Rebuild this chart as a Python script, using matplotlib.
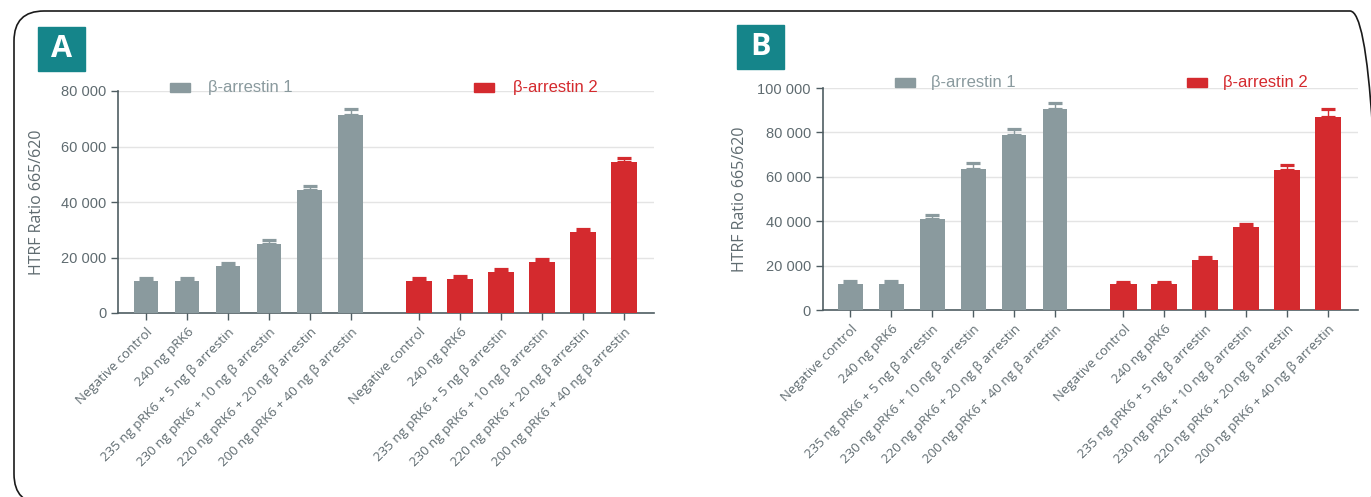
import matplotlib
matplotlib.use("Agg")
import matplotlib.pyplot as plt
import numpy as np
from matplotlib.patches import Rectangle, FancyBboxPatch
from matplotlib.transforms import IdentityTransform

# data
labels = ["Negative control", "240 ng pRK6", "235 ng pRK6 + 5 ng β arrestin",
          "230 ng pRK6 + 10 ng β arrestin", "220 ng pRK6 + 20 ng β arrestin",
          "200 ng pRK6 + 40 ng β arrestin"]

a_arr1 = [11400, 11400, 16800, 25000, 44400, 71400]
a_arr1_err = [1200, 1200, 1200, 1200, 1200, 2000]
a_arr2 = [11700, 12100, 14600, 18200, 29300, 54500]
a_arr2_err = [1000, 1100, 1200, 1300, 1100, 1200]

b_arr1 = [11700, 11700, 41000, 63500, 78800, 90500]
b_arr1_err = [1400, 1400, 1900, 2900, 2600, 2900]
b_arr2 = [11700, 11700, 22500, 37400, 63100, 86900]
b_arr2_err = [1100, 1100, 1400, 1300, 2200, 3500]

a_yticks = [0, 20000, 40000, 60000, 80000]
a_ytick_labels = ["0", "20 000", "40 000", "60 000", "80 000"]
b_yticks = [0, 20000, 40000, 60000, 80000, 100000]
b_ytick_labels = ["0", "20 000", "40 000", "60 000", "80 000", "100 000"]

GRAY = "#8a9a9e"
RED = "#d42a2e"
TEAL = "#15858a"
TXT = "#5f6b70"
SPINE = "#4f5d62"

cond = ["Liberation Sans", "DejaVu Sans"]
plain = ["Open Sans", "DejaVu Sans"]

fig = plt.figure(figsize=(13.71, 4.97), dpi=100)

# rounded frame (pixel coords, origin bottom-left)
H = 497
fig.patches.append(FancyBboxPatch((14, H - 504), 1380 - 14, 504 - 11,
                                  boxstyle="round,pad=0,rounding_size=30",
                                  transform=IdentityTransform(), fill=False,
                                  edgecolor="#1a1a1a", linewidth=1.2))

x1 = np.arange(6)
x2 = np.arange(6) + 6.67
pos = np.concatenate([x1, x2])


def panel(rect, s1, e1, s2, e2, yticks, yticklabels, letter, badge, leg,
          leg_y, ylab_x):
    ax = fig.add_axes(rect)
    ax.bar(x1, s1, width=0.6, color=GRAY, zorder=3)
    ax.bar(x2, s2, width=0.64, color=RED, zorder=3)
    ax.errorbar(x1, s1, yerr=[np.zeros(6), e1], fmt="none", ecolor=GRAY,
                elinewidth=1, capsize=5, capthick=2.3, zorder=4)
    ax.errorbar(x2, s2, yerr=[np.zeros(6), e2], fmt="none", ecolor=RED,
                elinewidth=1, capsize=5, capthick=2.3, zorder=4)
    ax.set_ylim(0, yticks[-1])
    ax.set_xlim(-0.68, 12.4)
    ax.set_yticks(yticks)
    ax.set_yticklabels(yticklabels, family=cond, fontsize=10.5, color=TXT)
    ax.set_xticks(pos)
    ax.set_xticklabels(labels + labels, rotation=45, ha="right",
                       rotation_mode="anchor", family=plain, fontsize=9.5,
                       color=TXT)
    ax.tick_params(axis="both", color=SPINE, length=5, width=1)
    ax.tick_params(axis="x", pad=4)
    for s in ["top", "right"]:
        ax.spines[s].set_visible(False)
    for s in ["left", "bottom"]:
        ax.spines[s].set_color(SPINE)
        ax.spines[s].set_linewidth(1.2)
    ax.yaxis.grid(True, color="#e4e4e4", linewidth=1, zorder=0)
    ax.set_axisbelow(True)
    ax.set_ylabel("HTRF Ratio 665/620", family=plain, fontsize=11.5, color=TXT)
    ax.yaxis.set_label_coords(ylab_x, 0.5)

    # legend squares and texts
    for (sx, tx, col, name) in leg:
        ax.add_patch(Rectangle((sx, leg_y), 0.038, 0.042, transform=ax.transAxes,
                               color=col, clip_on=False))
        ax.text(tx, leg_y + 0.021, name, transform=ax.transAxes, color=col,
                family=cond, fontsize=12, va="center", ha="left")

    # letter badge
    bx, by = badge
    fig.patches.append(Rectangle((bx, H - by - 44), 47, 44,
                                 transform=IdentityTransform(), color=TEAL))
    fig.text((bx + 23.5) / 1371, (H - by - 22) / H, letter, color="white",
             fontsize=22, fontweight="bold", ha="center", va="center",
             family=plain)
    return ax


# panel A
panel([118 / 1371, (H - 313) / H, 536 / 1371, 222 / H],
      a_arr1, a_arr1_err, a_arr2, a_arr2_err, a_yticks, a_ytick_labels,
      "A", (38, 27),
      [(0.097, 0.167, GRAY, "β-arrestin 1"), (0.664, 0.737, RED, "β-arrestin 2")],
      1 - 1 / 222.0, -0.136)

# panel B
panel([822.6 / 1371, (H - 310) / H, 535.4 / 1371, 222 / H],
      b_arr1, b_arr1_err, b_arr2, b_arr2_err, b_yticks, b_ytick_labels,
      "B", (737, 25),
      [(0.135, 0.202, GRAY, "β-arrestin 1"), (0.68, 0.747, RED, "β-arrestin 2")],
      1 + 1 / 222.0, -0.139)

fig.savefig("out.png", dpi=100)
